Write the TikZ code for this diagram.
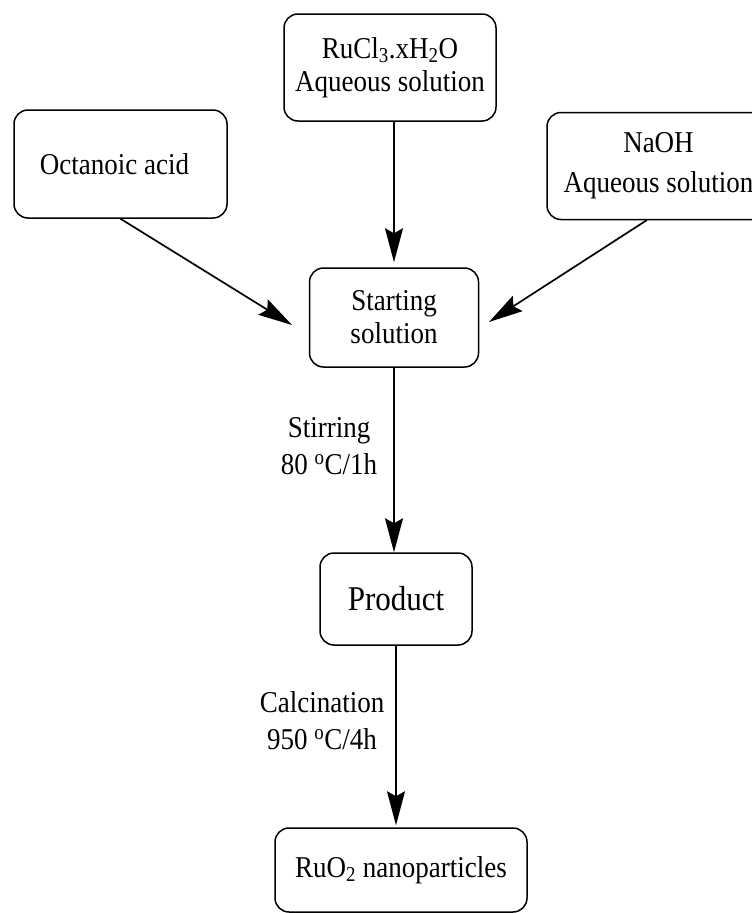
\documentclass[tikz,border=0pt]{standalone}
\usepackage{fontspec}
\usepackage{graphicx}
\setmainfont{Liberation Serif}
\usetikzlibrary{arrows.meta}
\newcommand\vstr[1]{\scalebox{1}[1.12]{#1}}
\begin{document}
\begin{tikzpicture}[x=1pt,y=-1pt,
  box/.style={draw, line width=1.5pt, rounded corners=14pt, align=center, inner sep=0pt, font=\fontsize{27}{33}\selectfont},
  arr/.style={line width=1.7pt, -{Stealth[length=34pt,width=18pt,inset=5pt]}},
  lbl/.style={align=center, inner sep=0pt, font=\fontsize{27}{37}\selectfont}]
\useasboundingbox (0,0) rectangle (752,913);
\node[box, minimum width=212pt, minimum height=107pt] (ru) at (390,67.5) {\vstr{RuCl\textsubscript{3}.xH\textsubscript{2}O}\\\vstr{Aqueous solution}};
\node[box, minimum width=213pt, minimum height=108pt] (oct) at (120.5,164) {\vstr{Octanoic acid}\hspace*{12pt}};
\node[box, minimum width=223pt, minimum height=107pt, font=\fontsize{27}{40}\selectfont] (nao) at (658.5,166) {\vstr{NaOH}\\\vstr{Aqueous solution}};
\node[box, minimum width=169pt, minimum height=99pt] (start) at (394,317.5) {\vstr{Starting}\\\vstr{solution}};
\node[box, minimum width=152pt, minimum height=92pt, font=\fontsize{31}{36}\selectfont] (prod) at (396,599) {\vstr{Product}};
\node[box, minimum width=252pt, minimum height=84pt] (ruo) at (401,870) {\vstr{RuO\textsubscript{2} nanoparticles}};
\coordinate (lt) at (292,325);
\coordinate (rt) at (489,322);
\coordinate (ns) at (647,220);
\draw[arr, shorten >=5pt] (start.north |- ru.south) -- (start.north);
\draw[arr] (oct.south) -- (lt);
\draw[arr] (ns) -- (rt);
\draw[arr] (start.south) -- (start.south |- prod.north);
\draw[arr, shorten >=2pt] (prod.south) -- (prod.south |- ruo.north);
\node[lbl] (stir) at (329,446) {\vstr{Stirring}\\\vstr{80 \textsuperscript{o}C/1h}};
\node[lbl] (calc) at (322,721) {\vstr{Calcination}\\\vstr{950 \textsuperscript{o}C/4h}};
\end{tikzpicture}
\end{document}
